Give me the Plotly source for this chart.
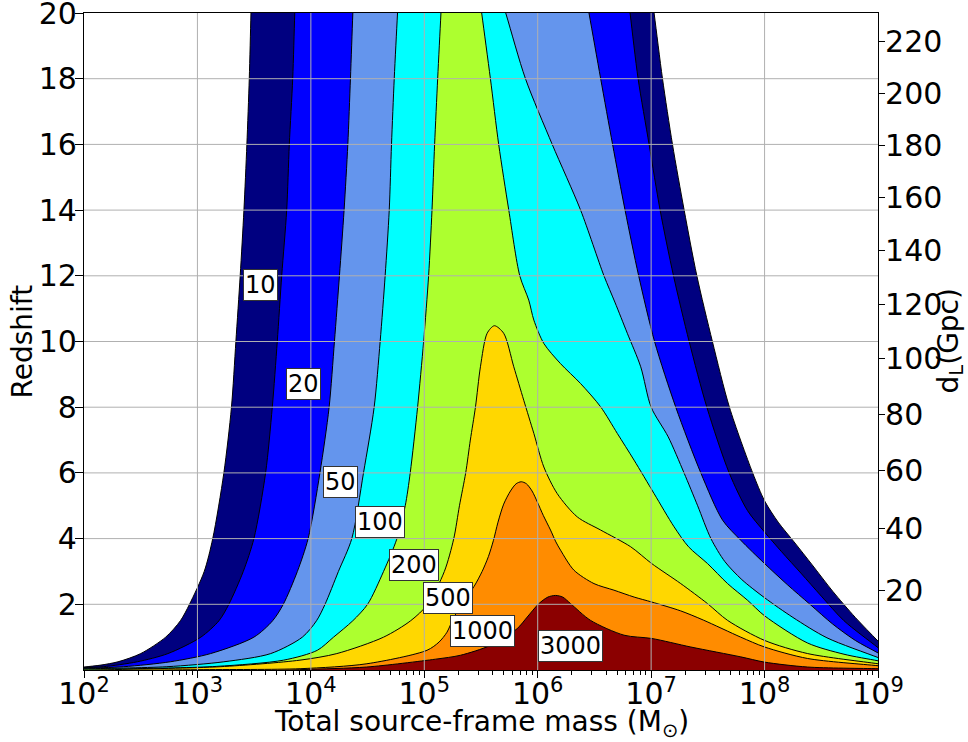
import numpy as np
import plotly.graph_objects as go

# ---------------- data (log10 of total source-frame mass, redshift) ----------------
LEVELS = [10, 20, 50, 100, 200, 500, 1000, 3000]

# left edges (bottom -> top) and right edges (top -> bottom) of each SNR region
SNR10_LEFT = [(2.0, 0.09), (2.15, 0.15), (2.30, 0.25), (2.50, 0.5), (2.72, 1.0), (2.85, 1.5),
              (2.93, 2.0), (3.06, 3.0), (3.135, 4.0), (3.233, 6.0), (3.30, 8.0), (3.339, 10.0),
              (3.377, 12.0), (3.41, 14.0), (3.436, 16.0), (3.457, 18.0), (3.472, 20.0)]
SNR10_RIGHT = [(7.026, 20.0), (7.10, 18.0), (7.188, 16.0), (7.291, 14.0), (7.403, 12.0),
               (7.54, 10.0), (7.69, 8.0), (7.895, 6.0), (8.0, 5.15), (8.12, 4.5), (8.26, 3.9),
               (8.42, 3.2), (8.6, 2.4), (8.8, 1.6), (9.0, 0.88)]

SNR20_LEFT = [(2.0, 0.07), (2.17, 0.1), (2.47, 0.25), (2.74, 0.5), (3.03, 1.0), (3.19, 1.5),
              (3.277, 2.0), (3.404, 3.0), (3.498, 4.0), (3.601, 6.0), (3.66, 8.0), (3.704, 10.0),
              (3.743, 12.0), (3.787, 14.0), (3.81, 16.0), (3.84, 18.0), (3.858, 20.0)]
SNR20_RIGHT = [(6.814, 20.0), (6.885, 18.0), (6.982, 16.0), (7.079, 14.0), (7.197, 12.0),
               (7.335, 10.0), (7.491, 8.0), (7.688, 6.0), (7.85, 4.85), (8.0, 4.2), (8.15, 3.6),
               (8.32, 2.95), (8.5, 2.25), (8.7, 1.5), (9.0, 0.68)]

SNR50_LEFT = [(2.0, 0.05), (2.35, 0.1), (2.76, 0.25), (3.116, 0.5), (3.498, 1.0), (3.663, 1.5),
              (3.757, 2.0), (3.881, 3.0), (3.976, 4.0), (4.08, 6.0), (4.161, 8.0), (4.208, 10.0),
              (4.252, 12.0), (4.293, 14.0), (4.326, 16.0), (4.349, 18.0), (4.37, 20.0)]
SNR50_RIGHT = [(6.452, 20.0), (6.555, 18.0), (6.66, 16.0), (6.77, 14.0), (6.89, 12.0),
               (7.03, 10.0), (7.217, 8.0), (7.438, 6.0), (7.63, 4.56), (7.79, 3.95), (8.0, 3.24),
               (8.2, 2.6), (8.4, 2.0), (8.6, 1.4), (8.8, 0.9), (9.0, 0.52)]

SNR100_LEFT = [(2.0, 0.035), (2.73, 0.1), (3.233, 0.25), (3.646, 0.5), (3.925, 1.0), (4.05, 1.5),
               (4.125, 2.0), (4.243, 3.0), (4.361, 4.0), (4.464, 6.0), (4.558, 8.0), (4.611, 10.0),
               (4.655, 12.0), (4.691, 14.0), (4.711, 16.0), (4.735, 18.0), (4.764, 20.0)]
SNR100_RIGHT = [(5.718, 20.0), (5.892, 18.0), (6.128, 16.0), (6.378, 14.0), (6.584, 12.0),
                (6.68, 11.2), (6.79, 10.25), (6.908, 9.23), (7.0, 8.0), (7.15, 7.1), (7.29, 6.0),
                (7.41, 5.0), (7.527, 4.0), (7.65, 3.3), (7.8, 2.75), (8.0, 2.2), (8.25, 1.6),
                (8.55, 0.98), (9.0, 0.38)]

SNR200_LEFT = [(2.0, 0.025), (2.44, 0.04), (3.17, 0.11), (3.76, 0.3), (4.057, 0.6), (4.2, 1.0),
               (4.37, 1.5), (4.5, 2.0), (4.641, 3.0), (4.759, 4.0), (4.832, 5.0), (4.876, 6.0),
               (4.941, 8.0), (4.994, 10.0), (5.038, 12.0), (5.068, 14.0), (5.091, 16.0),
               (5.118, 18.0), (5.147, 20.0)]
SNR200_RIGHT = [(5.506, 20.0), (5.583, 18.0), (5.656, 16.0), (5.745, 14.0), (5.842, 12.0),
                (5.921, 11.26), (5.966, 10.65), (6.054, 9.94), (6.2, 9.33), (6.378, 8.72),
                (6.555, 8.01), (6.702, 7.2), (6.849, 6.39), (7.026, 5.37), (7.202, 4.36),
                (7.33, 3.75), (7.497, 3.24), (7.674, 2.63), (7.851, 2.12), (8.0, 1.65),
                (8.38, 0.82), (8.7, 0.48), (9.0, 0.28)]

SNR500_LEFT = [(2.3, 0.015), (3.2, 0.1), (3.904, 0.3), (4.229, 0.5), (4.641, 1.0), (4.88, 1.5),
               (5.03, 2.0), (5.177, 3.0), (5.26, 4.0), (5.31, 5.0), (5.365, 6.0), (5.406, 7.0),
               (5.451, 8.0), (5.495, 9.23), (5.554, 10.25), (5.618, 10.48)]
SNR500_RIGHT = [(5.70, 10.25), (5.789, 9.23), (5.877, 8.21), (5.966, 7.2), (6.054, 6.18),
                (6.172, 5.37), (6.349, 4.66), (6.555, 4.26), (6.82, 3.75), (7.005, 3.24),
                (7.261, 2.63), (7.497, 2.02), (7.674, 1.51), (8.0, 0.9), (8.38, 0.5), (9.0, 0.19)]

SNR1000_LEFT = [(3.0, 0.01), (3.905, 0.04), (4.494, 0.19), (5.024, 0.6), (5.13, 0.85),
                (5.2, 1.15), (5.26, 1.6), (5.35, 2.1), (5.44, 2.55), (5.51, 3.0), (5.565, 3.45),
                (5.61, 3.95), (5.65, 4.5), (5.7, 5.05), (5.76, 5.45), (5.81, 5.67), (5.855, 5.73)]
SNR1000_RIGHT = [(5.9, 5.67), (5.95, 5.45), (5.996, 5.12), (6.05, 4.7), (6.113, 4.26),
                 (6.16, 3.9), (6.201, 3.65), (6.319, 3.04), (6.496, 2.63), (6.672, 2.43),
                 (6.85, 2.22), (7.005, 2.07), (7.26, 1.8), (7.46, 1.52), (7.79, 1.0), (8.0, 0.7),
                 (8.38, 0.35), (9.0, 0.13)]

SNR3000_LEFT = [(3.9, 0.01), (4.49, 0.09), (5.1, 0.33), (5.32, 0.45), (5.583, 0.75),
                (5.819, 1.26), (5.907, 1.61), (6.01, 2.02), (6.09, 2.22), (6.157, 2.27)]
SNR3000_RIGHT = [(6.22, 2.22), (6.29, 2.02), (6.466, 1.51), (6.761, 1.06), (7.005, 0.96),
                 (7.35, 0.70), (7.79, 0.40), (8.0, 0.24), (8.38, 0.09), (9.0, 0.04)]

EDGES = [(SNR10_LEFT, SNR10_RIGHT), (SNR20_LEFT, SNR20_RIGHT), (SNR50_LEFT, SNR50_RIGHT),
         (SNR100_LEFT, SNR100_RIGHT), (SNR200_LEFT, SNR200_RIGHT), (SNR500_LEFT, SNR500_RIGHT),
         (SNR1000_LEFT, SNR1000_RIGHT), (SNR3000_LEFT, SNR3000_RIGHT)]

# axis ticks
X_TICK_EXP = [2, 3, 4, 5, 6, 7, 8, 9]
Y_TICKS = [2, 4, 6, 8, 10, 12, 14, 16, 18, 20]
DL_TICKS_GPC = [20, 40, 60, 80, 100, 120, 140, 160, 180, 200, 220]

# ---------------- style ----------------
COLORS = ["#000080", "#0000ff", "#6495ed", "#00ffff", "#adff2f", "#ffd700", "#ff8c00", "#8b0000"]
LABEL_POS = {10: (3.557, 11.72), 20: (3.934, 8.72), 50: (4.258, 5.71), 100: (4.609, 4.51),
             200: (4.91, 3.21), 500: (5.21, 2.2), 1000: (5.51, 1.18), 3000: (6.285, 0.72)}
FONT = "DejaVu Sans"
TICK_FS = 30
TITLE_FS = 28
LABEL_FS = 24
W, H = 968, 742
M_L, M_R, M_T, M_B = 84, 90, 13, 72
X_LO, X_HI = 1.8, 9.2   # closing points of the filled outlines lie outside the axes


def extend(p_in, p_end, x_target):
    """point on the line p_in -> p_end continued to x_target (outside the axes)"""
    k = (x_target - p_end[0]) / (p_end[0] - p_in[0])
    return (x_target, p_end[1] + k * (p_end[1] - p_in[1]))


def outline(left, right):
    pts = list(left)
    if left[-1][1] >= 20:
        (a, b), (c, d) = left[-2], left[-1]
        pts.append((c + (c - a), d + (d - b)))
        (a, b), (c, d) = right[1], right[0]
        pts.append((c + (c - a), d + (d - b)))
    pts += list(right)
    s = extend(left[1], left[0], X_LO)
    s2 = extend(left[0], s, X_LO - 0.1)
    e = extend(right[-2], right[-1], X_HI)
    e2 = extend(right[-1], e, X_HI + 0.1)
    pts = [(s2[0], -5.0), s2, s] + pts + [e, e2, (e2[0], -5.0)]
    xs = [10 ** p[0] for p in pts]
    ys = [p[1] for p in pts]
    return xs, ys


fig = go.Figure()
for lev, col, (left, right) in zip(LEVELS, COLORS, EDGES):
    xs, ys = outline(left, right)
    fig.add_trace(go.Scatter(x=xs, y=ys, mode="lines", fill="toself", fillcolor=col,
                             line=dict(color="black", width=1, shape="spline", smoothing=0.8),
                             hoverinfo="skip", showlegend=False))

# grid on top of the filled regions
for ex in X_TICK_EXP[1:-1]:
    fig.add_trace(go.Scatter(x=[10 ** ex, 10 ** ex], y=[0, 20], mode="lines",
                             line=dict(color="#b0b0b0", width=1), hoverinfo="skip", showlegend=False))
for yv in Y_TICKS[:-1]:
    fig.add_trace(go.Scatter(x=[10 ** X_TICK_EXP[0], 10 ** X_TICK_EXP[-1]], y=[yv, yv], mode="lines",
                             line=dict(color="#b0b0b0", width=1), hoverinfo="skip", showlegend=False))

# invisible trace for secondary axis
fig.add_trace(go.Scatter(x=[10 ** 5], y=[10], yaxis="y2", mode="markers", marker=dict(opacity=0),
                         hoverinfo="skip", showlegend=False))

# luminosity distance -> redshift (flat LCDM, Planck 2015)
H0, Om, c = 67.74, 0.3075, 299792.458
zg = np.linspace(0, 25, 50001)
invE = 1.0 / np.sqrt(Om * (1 + zg) ** 3 + (1 - Om))
Dc = c / H0 * np.concatenate([[0.0], np.cumsum(0.5 * (invE[1:] + invE[:-1]) * np.diff(zg))])
dl_gpc = (1 + zg) * Dc / 1000.0
z_of_dl = np.interp(DL_TICKS_GPC, dl_gpc, zg)

minor_vals = [m * 10 ** ex for ex in X_TICK_EXP[:-1] for m in range(2, 10)]

for lev in LEVELS:
    lx, ly = LABEL_POS[lev]
    fig.add_annotation(x=lx, y=ly, xref="x", yref="y", text=str(lev), showarrow=False,
                       font=dict(family=FONT, size=LABEL_FS, color="black"), bgcolor="white",
                       bordercolor="#333333", borderwidth=1, borderpad=1)

# axis titles (placed in paper coordinates)
pw, ph = W - M_L - M_R, H - M_T - M_B
title_font = dict(family=FONT, size=TITLE_FS, color="black")
fig.add_annotation(text="Total source-frame mass (M<sub>⊙</sub>)", xref="paper", yref="paper",
                   x=(481 - M_L) / pw, y=-(724 - (H - M_B)) / ph, xanchor="center", yanchor="middle",
                   showarrow=False, font=title_font)
fig.add_annotation(text="Redshift", xref="paper", yref="paper", textangle=-90,
                   x=(22 - M_L) / pw, y=0.5, xanchor="center", yanchor="middle",
                   showarrow=False, font=title_font)
fig.add_annotation(text="d<sub>L</sub>(Gpc)", xref="paper", yref="paper", textangle=-90,
                   x=(950 - M_L) / pw, y=0.5, xanchor="center", yanchor="middle",
                   showarrow=False, font=title_font)

tick_font = dict(family=FONT, size=TICK_FS, color="black")
fig.update_layout(
    width=W, height=H, margin=dict(l=M_L, r=M_R, t=M_T, b=M_B, autoexpand=False),
    paper_bgcolor="white", plot_bgcolor="white",
    font=tick_font,
    xaxis=dict(type="log", range=[2, 9], tickmode="array",
               tickvals=[10 ** ex for ex in X_TICK_EXP],
               ticktext=["10<sup>%d</sup>" % ex for ex in X_TICK_EXP],
               ticks="outside", ticklen=7, tickwidth=1.2, tickcolor="black",
               minor=dict(tickmode="array", tickvals=minor_vals, ticks="outside", ticklen=4,
                          tickwidth=1, tickcolor="black", showgrid=False),
               showgrid=False, zeroline=False, showline=True, linecolor="black", linewidth=1.2,
               mirror=True, tickfont=tick_font, ticklabeloverflow="allow", automargin=False,
               ticklabelstandoff=-10),
    yaxis=dict(range=[0, 20], tickmode="array", tickvals=Y_TICKS,
               ticktext=[str(v) for v in Y_TICKS], ticks="outside", ticklen=8, tickwidth=1.2,
               tickcolor="black", showgrid=False, zeroline=False, showline=True,
               linecolor="black", linewidth=1.2, tickfont=tick_font, ticklabeloverflow="allow",
               automargin=False, ticklabelstandoff=-8),
    yaxis2=dict(range=[0, 20], overlaying="y", side="right", tickmode="array",
                tickvals=list(z_of_dl), ticktext=[str(v) for v in DL_TICKS_GPC],
                ticks="outside", ticklen=6, tickwidth=1.2, tickcolor="black", showgrid=False,
                zeroline=False, showline=True, linecolor="black", linewidth=1.2, tickfont=tick_font,
                ticklabeloverflow="allow", automargin=False, ticklabelstandoff=-6),
)

fig.write_html("out.html")
